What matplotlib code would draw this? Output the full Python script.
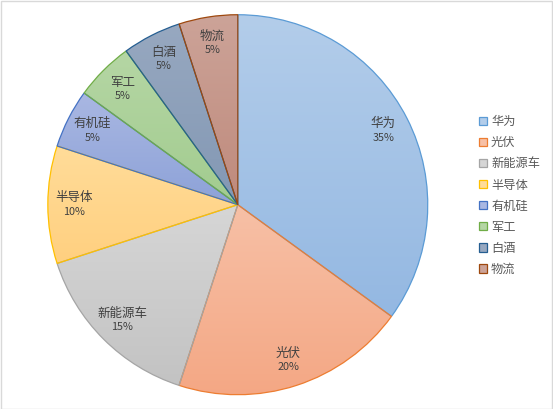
import numpy as np
import matplotlib
matplotlib.use('Agg')
import matplotlib.pyplot as plt
from matplotlib.colors import to_rgb
from matplotlib.patches import Rectangle

plt.rcParams['font.family'] = ['Noto Sans CJK SC', 'DejaVu Sans']

labels = ['华为', '光伏', '新能源车', '半导体', '有机硅', '军工', '白酒', '物流']
shares = [35, 20, 15, 10, 5, 5, 5, 5]
# top / bottom of the gradient fill, and the edge colour
top_cols = ['#b3cdea', '#f7c0a6', '#d6d6d6', '#ffdc99', '#a9b7e2', '#b5d6a4', '#97a8c0', '#cca398']
bot_cols = ['#94b8e2', '#f4a784', '#c3c3c3', '#ffd080', '#8da2d8', '#a2cc8f', '#8398b4', '#bf8a7c']
edge_cols = ['#5b9bd5', '#ed7d31', '#a5a5a5', '#ffc000', '#4472c4', '#70ad47', '#255e91', '#9e480e']

fig = plt.figure(figsize=(5.53, 4.09), dpi=100)
fig.patches.append(Rectangle((0.001, 0.001), 0.997, 0.997, transform=fig.transFigure,
                             fill=False, edgecolor='#d9d9d9', lw=1))

ax = fig.add_axes([0.0865, 0.035, 0.687, 0.929])
wedges, _ = ax.pie(shares, startangle=90, counterclock=False, radius=1,
                   wedgeprops=dict(linewidth=0.9))

for w, c0, c1, ec in zip(wedges, top_cols, bot_cols, edge_cols):
    w.set_facecolor('none')
    w.set_edgecolor(ec)
    w.set_zorder(3)
    verts = w.get_path().vertices
    x0, x1 = verts[:, 0].min(), verts[:, 0].max()
    y0, y1 = verts[:, 1].min(), verts[:, 1].max()
    t = np.linspace(0, 1, 64)[:, None]
    grad = np.array(to_rgb(c0)) * (1 - t) + np.array(to_rgb(c1)) * t
    img = ax.imshow(grad[:, None, :], extent=(x0, x1, y0, y1), origin='upper',
                    aspect='auto', interpolation='bilinear', zorder=2)
    img.set_clip_path(w)

ax.set_xlim(-1, 1)
ax.set_ylim(-1, 1)
ax.set_aspect('auto')
ax.axis('off')

# data labels
for w, name, s in zip(wedges, labels, shares):
    ang = np.deg2rad((w.theta1 + w.theta2) / 2)
    r = 0.86
    x, y = r * np.cos(ang), r * np.sin(ang)
    ax.text(x, y + 0.037, name, ha='center', va='center', fontsize=9,
            color='#404040', zorder=5)
    ax.text(x, y - 0.037, f'{s}%', ha='center', va='center', fontsize=7.8,
            color='#404040', zorder=5)

handles = [Rectangle((0, 0), 1, 1, facecolor=c, edgecolor=e, lw=0.9)
           for c, e in zip(top_cols, edge_cols)]
fig.legend(handles, labels, loc='upper left', bbox_to_anchor=(0.857, 0.73),
           frameon=False, fontsize=8.8, labelcolor='#595959',
           handlelength=0.65, handleheight=0.65, handletextpad=0.35,
           labelspacing=0.66, borderaxespad=0)

fig.savefig('out.png', dpi=100)
